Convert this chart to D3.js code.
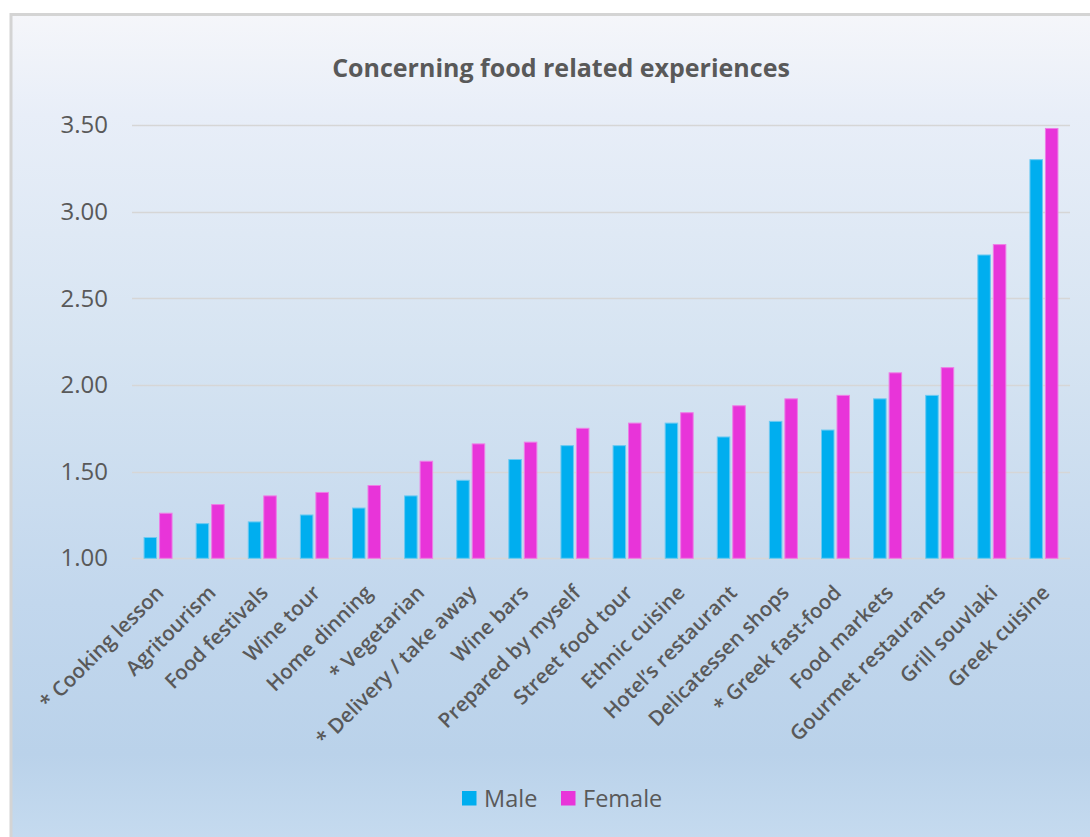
<!DOCTYPE html>
<html><head><meta charset="utf-8">
<script src="https://cdn.jsdelivr.net/npm/d3@7"></script>
<style>body{margin:0;background:#fff}svg{display:block}</style>
</head><body>
<svg id="c" width="1090" height="837"></svg>
<script>
const categories = ["* Cooking lesson","Agritourism","Food festivals","Wine tour","Home dinning","* Vegetarian","* Delivery / take away","Wine bars","Prepared by myself","Street food tour","Ethnic cuisine","Hotel\u2019s restaurant","Delicatessen shops","* Greek fast-food","Food markets","Gourmet restaurants","Grill souvlaki","Greek cuisine"];
const male =   [1.12,1.20,1.21,1.25,1.29,1.36,1.45,1.57,1.65,1.65,1.78,1.70,1.79,1.74,1.92,1.94,2.75,3.30];
const female = [1.26,1.31,1.36,1.38,1.42,1.56,1.66,1.67,1.75,1.78,1.84,1.88,1.92,1.94,2.07,2.10,2.81,3.48];
const yTicks = [1.0,1.5,2.0,2.5,3.0,3.5];
const seriesNames = ["Male","Female"];
const colors = ["#00AEEF","#E834D9"];

const svg = d3.select("#c");
const defs = svg.append("defs");
const g = defs.append("linearGradient").attr("id","bg").attr("x1",0).attr("y1",0).attr("x2",0).attr("y2",1);
[[0,"#f5f6fa"],[0.12,"#e8eef8"],[0.4,"#d6e4f2"],[0.7,"#c2d7ed"],[0.88,"#bad2ea"],[1,"#c7dcf0"]].forEach(s=>g.append("stop").attr("offset",s[0]).attr("stop-color",s[1]));

svg.append("rect").attr("x",11).attr("y",14.5).attr("width",1100).attr("height",840)
  .attr("fill","url(#bg)").attr("stroke","#d4d4d4").attr("stroke-width",3);

const x = d3.scaleBand().domain(categories).range([132,1070]);
const y = d3.scaleLinear().domain([1,3.5]).range([558.3,125]);

// grid
svg.append("g").selectAll("line").data(yTicks).join("line")
  .attr("x1",132).attr("x2",1070).attr("y1",d=>Math.round(y(d))+0.5).attr("y2",d=>Math.round(y(d))+0.5)
  .attr("stroke","#d6d6d6").attr("stroke-width",1.3);

// y axis
const ya = svg.append("g").attr("transform","translate(132,0)")
  .call(d3.axisLeft(y).tickValues(yTicks).tickFormat(d3.format(".2f")).tickSize(0).tickPadding(24));
ya.select(".domain").remove();
ya.selectAll("text").attr("font-family","'Open Sans'").attr("font-size",24).attr("fill","#595959");

// bars
const bw = 12.5;
const bars = svg.append("g");
bars.selectAll("rect.m").data(categories).join("rect").attr("class","m")
  .attr("x",d=>x(d)+x.bandwidth()/2-14).attr("width",bw)
  .attr("y",(d,i)=>y(male[i])).attr("height",(d,i)=>y(1)-y(male[i]))
  .attr("fill",colors[0]).attr("stroke","#6ccaf2").attr("stroke-width",1);
bars.selectAll("rect.f").data(categories).join("rect").attr("class","f")
  .attr("x",d=>x(d)+x.bandwidth()/2+1.5).attr("width",bw)
  .attr("y",(d,i)=>y(female[i])).attr("height",(d,i)=>y(1)-y(female[i]))
  .attr("fill",colors[1]).attr("stroke","#ee7ee6").attr("stroke-width",1);

// x labels
const xa = svg.append("g").attr("transform","translate(0,558)")
  .call(d3.axisBottom(x).tickSize(0).tickPadding(0));
xa.select(".domain").remove();
xa.selectAll("text").attr("font-family","'Open Sans'").attr("font-weight",600).attr("font-size",20.5)
  .attr("fill","#595959").attr("text-anchor","end").attr("dy",0)
  .attr("transform","translate(7,36) rotate(-45)");

// title
svg.append("text").attr("x",561).attr("y",77).attr("text-anchor","middle")
  .attr("font-family","'Open Sans'").attr("font-weight",700).attr("font-size",25).attr("fill","#595959")
  .text("Concerning food related experiences");

// legend
const lg = svg.append("g");
const items = [{n:seriesNames[0],c:colors[0],x:462},{n:seriesNames[1],c:colors[1],x:561}];
items.forEach(it=>{
  lg.append("rect").attr("x",it.x).attr("y",791).attr("width",14.5).attr("height",14.5).attr("fill",it.c);
  lg.append("text").attr("x",it.x+22).attr("y",807).attr("font-family","'Open Sans'").attr("font-size",23.5)
    .attr("fill","#595959").text(it.n);
});
</script>
</body></html>
